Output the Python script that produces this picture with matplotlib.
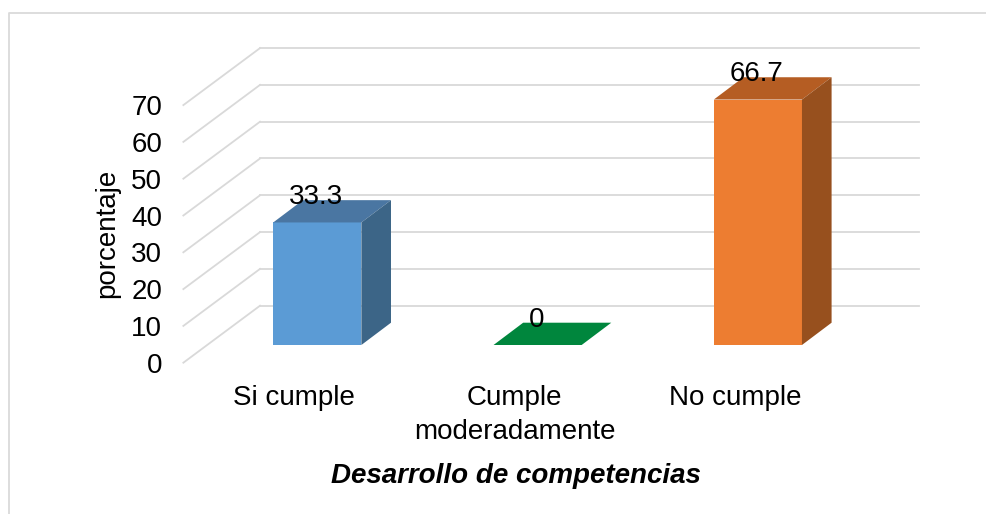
import matplotlib
matplotlib.use("Agg")
import matplotlib.pyplot as plt
from matplotlib.lines import Line2D
from matplotlib.transforms import ScaledTranslation

categories = ["Si cumple", "Cumple\nmoderadamente", "No cumple"]
values = [33.3, 0, 66.7]
value_labels = ["33.3", "0", "66.7"]
y_ticks = [0, 10, 20, 30, 40, 50, 60, 70]

front_colors = ["#5B9BD5", "#00863D", "#ED7D31"]
top_colors = ["#4A76A2", "#00863D", "#B55D23"]
side_colors = ["#3C6587", "#00863D", "#97501E"]

plt.rcParams["font.family"] = ["Liberation Sans", "DejaVu Sans"]
plt.rcParams["font.size"] = 20

W, H = 986, 514
fig = plt.figure(figsize=(W / 100, H / 100), dpi=100)
fig.patch.set_facecolor("white")

# outer chart border, only top and left are in the picture
fig.add_artist(Line2D([1, 8.5 / W, 8.5 / W], [1 - 12.5 / H, 1 - 12.5 / H, 0],
                      transform=fig.transFigure, color="#DADADA", linewidth=1.3))

# axes = plane of the bars, 3.68 px per unit, 220.3 px per category
ax = fig.add_axes([207.15 / W, 1 - 345 / H, 660.9 / W, 257.6 / H])
ax.set_xlim(-0.5, 2.5)
ax.set_ylim(0, 70)
for s in ax.spines.values():
    s.set_visible(False)
ax.patch.set_visible(False)

# depth of the walls and of the bars, in data units
wall_front = (-0.108, -4.81)
wall_back = (0.24, 10.68)
bar_depth = (0.1345, 6.06)
bar_width = 0.4

for t in y_ticks:
    ax.plot([-0.5 + wall_front[0], -0.5 + wall_back[0]],
            [t + wall_front[1], t + wall_back[1]],
            color="#D9D9D9", lw=1.3, clip_on=False, zorder=1)
    ax.plot([-0.5 + wall_back[0], 2.49 + wall_back[0]],
            [t + wall_back[1], t + wall_back[1]],
            color="#D9D9D9", lw=1.3, clip_on=False, zorder=1)

xs = list(range(len(values)))
ax.bar(xs, values, width=bar_width, color=front_colors, zorder=3)
for x, v, tc, sc in zip(xs, values, top_colors, side_colors):
    x0 = x - bar_width / 2
    x1 = x + bar_width / 2
    dx, dy = bar_depth
    ax.fill([x0, x1, x1 + dx, x0 + dx], [v, v, v + dy, v + dy],
            color=tc, lw=0, clip_on=False, zorder=3)
    if v > 0:
        ax.fill([x1, x1 + dx, x1 + dx, x1], [0, dy, v + dy, v],
                color=sc, lw=0, clip_on=False, zorder=3)

for x, v, lab in zip(xs, values, value_labels):
    ax.annotate(lab, (x, v), xytext=(-0.7, 18.3), textcoords="offset points",
                ha="center", va="center", color="black", zorder=5)

ax.set_xticks(xs)
ax.set_xticklabels(categories, linespacing=1.38)
ax.set_yticks(y_ticks)
ax.tick_params(length=0, colors="black")
ax.tick_params(axis="y", pad=32.5)
ax.tick_params(axis="x", pad=29)
for lab in ax.get_yticklabels():
    lab.set_transform(lab.get_transform() + ScaledTranslation(0, -0.178, fig.dpi_scale_trans))
for lab in ax.get_xticklabels():
    lab.set_transform(lab.get_transform() + ScaledTranslation(-0.23, 0, fig.dpi_scale_trans))

ax.set_ylabel("porcentaje")
ax.yaxis.set_label_coords((107 - 207.15) / 660.9, (345 - 233) / 257.6)
ax.set_xlabel("Desarrollo de competencias", fontweight="bold", fontstyle="italic")
ax.xaxis.set_label_coords((516 - 207.15) / 660.9, (345 - 476) / 257.6)
ax.xaxis.label.set_va("center")
ax.yaxis.label.set_va("center")

fig.savefig("out.png", dpi=100)
